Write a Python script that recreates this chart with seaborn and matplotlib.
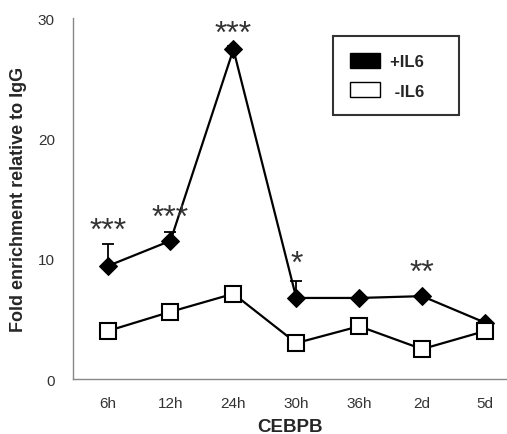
import pandas as pd
import matplotlib.pyplot as plt
import matplotlib.patches as mpatches
import seaborn as sns

# datos
tiempos = ['6h', '12h', '24h', '30h', '36h', '2d', '5d']
con_il6 = [9.4, 11.5, 27.4, 6.75, 6.75, 6.9, 4.7]
sin_il6 = [4.0, 5.6, 7.1, 3.0, 4.4, 2.5, 4.0]
err_con = [1.8, 0.7, 0.3, 1.4, 0.2, 0.2, 0.2]
estrellas = ['***', '***', '***', '*', '', '**', '']
alto_estrellas = [12.3, 13.4, 28.7, 9.6, 0, 8.8, 0]

df = pd.DataFrame({'tiempo': tiempos, 'con': con_il6, 'sin': sin_il6})

sns.set_style('white')
plt.rcParams['font.family'] = ['Liberation Sans', 'DejaVu Sans']

fig = plt.figure(figsize=(5.07, 4.35), dpi=100)
ax = fig.add_axes([0.144, 0.126, 0.856, 0.83])

pos = list(range(len(tiempos)))
ax.errorbar(pos, con_il6, yerr=[[0] * len(err_con), err_con], fmt='none',
            ecolor='black', elinewidth=1.3, capsize=4, capthick=1.3, zorder=2)
sns.lineplot(x=pos, y=df['con'], ax=ax, color='black', lw=1.6, marker='D',
             markersize=9, markerfacecolor='black', markeredgecolor='black', zorder=3)
sns.lineplot(x=pos, y=df['sin'], ax=ax, color='black', lw=1.6, marker='s',
             markersize=12, markerfacecolor='white', markeredgecolor='black',
             markeredgewidth=1.5, zorder=4)

for i, s in enumerate(estrellas):
    if s:
        ax.text(i, alto_estrellas[i], s, ha='center', va='center', fontsize=23,
                color='#333333')

ax.set_ylim(0, 30)
ax.set_xlim(-0.55, 6.35)
ax.set_yticks([0, 10, 20, 30])
ax.set_xticks(pos)
ax.set_xticklabels(tiempos)
ax.set_xticks([p - 0.5 for p in pos], minor=True)
ax.tick_params(axis='x', which='major', length=0, pad=12, labelsize=11, labelcolor='#333333')
ax.tick_params(axis='x', which='minor', length=5, color='#888888', direction='out')
ax.tick_params(axis='y', length=5, color='#888888', direction='out', labelsize=11,
               labelcolor='#333333', pad=8)
for lado in ['top', 'right']:
    ax.spines[lado].set_visible(False)
for lado in ['left', 'bottom']:
    ax.spines[lado].set_color('#888888')
    ax.spines[lado].set_linewidth(1.0)

ax.set_ylabel('Fold enrichment relative to IgG', fontsize=13, fontweight='bold', labelpad=8)
ax.set_xlabel('CEBPB', fontsize=13.5, fontweight='bold', labelpad=6)

manijas = [mpatches.Patch(facecolor='black', edgecolor='black', label='+IL6    '),
           mpatches.Patch(facecolor='white', edgecolor='black', label=' -IL6    ')]
leg = ax.legend(handles=manijas, loc='upper left', bbox_to_anchor=(0.6, 0.95),
                frameon=True, fancybox=False, edgecolor='black', fontsize=12,
                handlelength=1.8, handleheight=1.0, borderpad=1.0, labelspacing=0.8,
                handletextpad=0.6, borderaxespad=0)
leg.get_frame().set_linewidth(1.5)
for t in leg.get_texts():
    t.set_fontweight('bold')

fig.savefig('out.png', dpi=100)
